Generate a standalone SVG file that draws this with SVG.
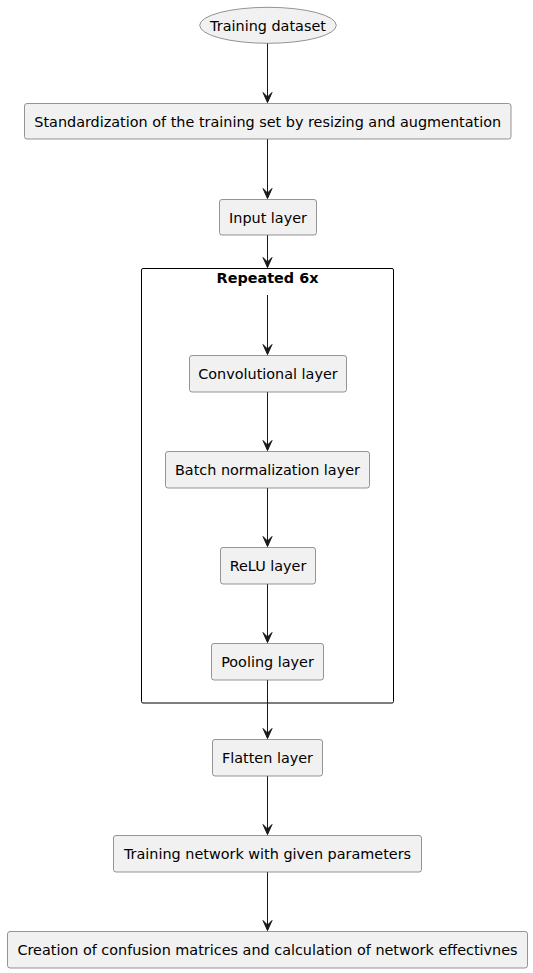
<svg xmlns="http://www.w3.org/2000/svg" width="533" height="973" viewBox="0 0 533 973">
<style>
.n{fill:#F1F1F1;stroke:#7A7A7A;stroke-width:0.8}
.t{font-family:"DejaVu Sans",sans-serif;font-size:14.4px;fill:#000;text-anchor:middle}
.e{stroke:#181818;stroke-width:1;fill:none}
.h{fill:#181818;stroke:#181818;stroke-width:1}
</style>
<defs>
<path id="ah" d="M-4.5,-10 L0,0 L4.5,-10 L0,-5.5 Z"/>
</defs>
<rect width="533" height="973" fill="#FFFFFF"/>
<g id="group-repeated">
<rect x="141.5" y="268.5" width="252" height="434.5" rx="1.5" fill="none" stroke="#000" stroke-width="1"/>
<text x="267.5" y="283" class="t" style="font-weight:bold">Repeated 6x</text>
</g>
<g id="connectors">
<line class="e" x1="267.5" y1="43" x2="267.5" y2="102.5"/><use href="#ah" class="h" x="267.5" y="102.5"/>
<line class="e" x1="267.5" y1="139" x2="267.5" y2="198.5"/><use href="#ah" class="h" x="267.5" y="198.5"/>
<line class="e" x1="267.5" y1="235" x2="267.5" y2="267.5"/><use href="#ah" class="h" x="267.5" y="267.5"/>
<line class="e" x1="267.5" y1="295" x2="267.5" y2="354.5"/><use href="#ah" class="h" x="267.5" y="354.5"/>
<line class="e" x1="267.5" y1="392" x2="267.5" y2="450.5"/><use href="#ah" class="h" x="267.5" y="450.5"/>
<line class="e" x1="267.5" y1="488" x2="267.5" y2="546.5"/><use href="#ah" class="h" x="267.5" y="546.5"/>
<line class="e" x1="267.5" y1="584" x2="267.5" y2="642.5"/><use href="#ah" class="h" x="267.5" y="642.5"/>
<line class="e" x1="267.5" y1="680" x2="267.5" y2="738.5"/><use href="#ah" class="h" x="267.5" y="738.5"/>
<line class="e" x1="267.5" y1="776" x2="267.5" y2="834.5"/><use href="#ah" class="h" x="267.5" y="834.5"/>
<line class="e" x1="267.5" y1="872" x2="267.5" y2="930.5"/><use href="#ah" class="h" x="267.5" y="930.5"/>
</g>
<g id="training-dataset">
<ellipse cx="268" cy="25.3" rx="68.3" ry="18" class="n"/>
<text x="268" y="31" class="t">Training dataset</text>
</g>
<g id="standardization">
<rect x="24.5" y="103.5" width="486.5" height="35.5" rx="2.5" class="n"/>
<text x="267.7" y="127" class="t">Standardization of the training set by resizing and augmentation</text>
</g>
<g id="input-layer">
<rect x="219.5" y="199.5" width="97" height="35.5" rx="2.5" class="n"/>
<text x="268" y="223" class="t">Input layer</text>
</g>
<g id="convolutional-layer">
<rect x="189.5" y="355.5" width="157" height="36.5" rx="2.5" class="n"/>
<text x="268" y="379" class="t">Convolutional layer</text>
</g>
<g id="batch-normalization-layer">
<rect x="165.5" y="451.5" width="204" height="36.5" rx="2.5" class="n"/>
<text x="267.5" y="475" class="t">Batch normalization layer</text>
</g>
<g id="relu-layer">
<rect x="220.5" y="547.5" width="95" height="36.5" rx="2.5" class="n"/>
<text x="268" y="571" class="t">ReLU layer</text>
</g>
<g id="pooling-layer">
<rect x="211.5" y="643.5" width="112" height="36.5" rx="2.5" class="n"/>
<text x="267.5" y="667" class="t">Pooling layer</text>
</g>
<g id="flatten-layer">
<rect x="212.5" y="739.5" width="110" height="36.5" rx="2.5" class="n"/>
<text x="267.5" y="763" class="t">Flatten layer</text>
</g>
<g id="training-network">
<rect x="113.5" y="835.5" width="308" height="36.5" rx="2.5" class="n"/>
<text x="267.5" y="859" class="t">Training network with given parameters</text>
</g>
<g id="confusion-matrices">
<rect x="7.5" y="931.5" width="520" height="36.5" rx="2.5" class="n"/>
<text x="267.5" y="955" class="t">Creation of confusion matrices and calculation of network effectivnes</text>
</g>
</svg>
